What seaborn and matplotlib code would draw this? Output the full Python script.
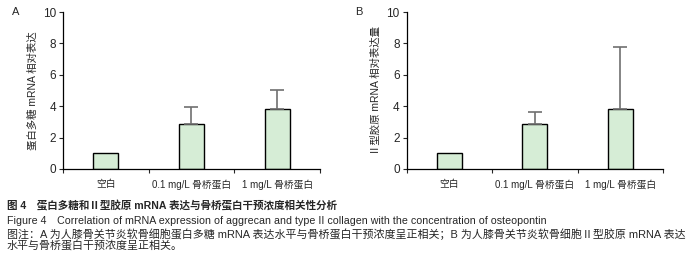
"""
Figure 4: aggrecan / type II collagen mRNA vs osteopontin concentration.
"""
import numpy as np
import pandas as pd
import matplotlib
matplotlib.use("Agg")
import matplotlib.pyplot as plt
import seaborn as sns

# === DATA ===
GROUPS = ["空白", "0.1 mg/L 骨桥蛋白", "1 mg/L 骨桥蛋白"]
AGGRECAN_MEAN = [1.05, 2.85, 3.8]
AGGRECAN_ERR = [0.0, 1.1, 1.2]
COL2_MEAN = [1.05, 2.85, 3.8]
COL2_ERR = [0.0, 0.75, 3.95]
YLABEL_A = "蛋白多糖 mRNA 相对表达"
YLABEL_B = "Ⅱ型胶原 mRNA 相对表达量"
YTICKS = [0, 2, 4, 6, 8, 10]

CAPTION = [
    ("图 4　蛋白多糖和Ⅱ型胶原 mRNA 表达与骨桥蛋白干预浓度相关性分析", "bold"),
    ("Figure 4　Correlation of mRNA expression of aggrecan and type II collagen with the concentration of osteopontin", "normal"),
    ("图注：A 为人膝骨关节炎软骨细胞蛋白多糖 mRNA 表达水平与骨桥蛋白干预浓度呈正相关；B 为人膝骨关节炎软骨细胞Ⅱ型胶原 mRNA 表达", "normal"),
    ("水平与骨桥蛋白干预浓度呈正相关。", "normal"),
]

BAR_COLOR = "#d6edd6"
ERR_COLOR = "#707070"

sns.set_style("white")
plt.rcParams["font.family"] = ["Liberation Sans", "Noto Sans CJK SC", "DejaVu Sans"]


def draw_panel(ax, means, errs, ylabel, tag):
    df = pd.DataFrame({"group": GROUPS, "value": means})
    sns.barplot(data=df, x="group", y="value", color=BAR_COLOR, edgecolor="black",
                linewidth=1.0, width=0.29, errorbar=None, saturation=1, ax=ax)
    x = np.arange(len(GROUPS))
    has_err = np.array(errs) > 0
    ax.errorbar(x[has_err], np.array(means)[has_err],
                yerr=[np.zeros(has_err.sum()), np.array(errs)[has_err]],
                fmt="none", ecolor=ERR_COLOR, elinewidth=1.2, capsize=5, capthick=1.2, zorder=1)
    ax.set_xlim(-0.5, 2.5)
    ax.set_ylim(0, 10)
    ax.set_yticks(YTICKS)
    ax.set_xlabel("")
    ax.set_ylabel(ylabel, fontsize=7.5, labelpad=4)
    ax.tick_params(axis="y", left=True, length=3, width=0.8, labelsize=8.5, pad=2)
    ax.tick_params(axis="x", bottom=False, labelsize=7, pad=4)
    ax.set_xticks([-0.5, 0.5, 1.5, 2.5], minor=True)
    ax.tick_params(axis="x", which="minor", bottom=True, length=3, width=0.8)
    sns.despine(ax=ax)
    for s in ("left", "bottom"):
        ax.spines[s].set_color("black")
        ax.spines[s].set_linewidth(0.9)
    ax.text(-0.2, 1.0, tag, transform=ax.transAxes, fontsize=8, va="center")


fig = plt.figure(figsize=(7.0, 2.73), dpi=100)
ax_a = fig.add_axes([0.09, 0.381, 0.367, 0.575])
ax_b = fig.add_axes([0.581, 0.381, 0.366, 0.575])

draw_panel(ax_a, AGGRECAN_MEAN, AGGRECAN_ERR, YLABEL_A, "A")
draw_panel(ax_b, COL2_MEAN, COL2_ERR, YLABEL_B, "B")

y_pos = [206, 221, 234, 246]
sizes = [7.6, 7.7, 7.9, 7.9]
for (line, weight), y, fs in zip(CAPTION, y_pos, sizes):
    fig.text(7 / 700, 1 - y / 273, line, fontsize=fs, fontweight=weight, va="center", ha="left")

plt.savefig("out.png", dpi=100)
plt.close()
print("Saved: out.png")
